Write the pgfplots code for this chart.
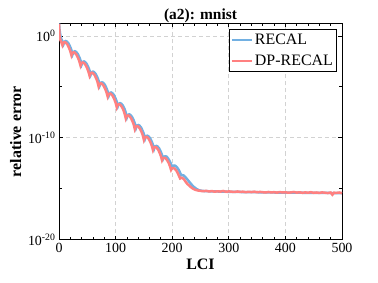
\documentclass[border=0pt]{standalone}
\usepackage{pgfplots}
\pgfplotsset{compat=1.18}
\usepackage{fontspec}
\setmainfont{Liberation Serif}
\definecolor{cblue}{RGB}{114,176,226}
\definecolor{cred}{RGB}{255,128,128}
\definecolor{cgrid}{RGB}{210,210,210}
\begin{document}
\begin{tikzpicture}
\useasboundingbox (-59bp,-43.5bp) rectangle (319bp,239.5bp);
\begin{axis}[
  at={(0,0)}, anchor=south west,
  scale only axis, width=283bp, height=216bp,
  xmin=0, xmax=500, ymin=-20, ymax=1.23,
  xtick={0,100,...,500}, minor x tick num=4,
  ytick={-20,-10,0},
  yticklabels={10\textsuperscript{-20},10\textsuperscript{-10},10\textsuperscript{0}},
  minor ytick={-15,-5},
  tick align=inside, xtick pos=both, ytick pos=both,
  xticklabel pos=lower, yticklabel pos=left,
  major tick length=4bp, minor tick length=3bp,
  every tick/.style={black, line width=0.8bp},
  axis line style={black, line width=1bp},
  grid=major,
  major grid style={cgrid, line width=0.9bp, dash pattern=on 4bp off 3bp},
  /pgf/number format/assume math mode=true,
  tick label style={font=\fontsize{14}{15}\selectfont},
  title={(a2): mnist},
  title style={font=\fontsize{15.5}{16}\selectfont\bfseries, at={(0.5,1)}, anchor=south, yshift=-9bp},
  xlabel={LCI}, ylabel={relative error},
  label style={font=\fontsize{16}{17}\selectfont\bfseries},
  legend style={at={(rel axis cs:0.982,0.975)}, anchor=north east,
    draw=black, line width=1bp, fill=white,
    font=\fontsize{16}{17}\selectfont, inner xsep=1.5bp, inner ysep=2.5bp,
    row sep=5bp},
  legend cell align=left,
  legend image code/.code={\draw[#1, line width=2bp] (0bp,0bp) -- (20bp,0bp);},
]
\addplot[cblue, line width=2.5bp] coordinates {
(0,1.23)(1,0.6)(2,0.2)(3,-0.1)(4,-0.3)(6,-0.5)
(8,-0.8)(9,-0.65)(10,-0.55)(12,-0.5)(14,-0.55)(17,-0.75)(20,-1.1)(22,-1.4)
(24,-1.8)(25,-1.65)(26,-1.55)(28,-1.5)(30,-1.55)(33,-1.75)(36,-2.1)(38,-2.4)
(40,-2.8)(41,-2.65)(42,-2.55)(44,-2.5)(46,-2.55)(49,-2.75)(52,-3.1)(54,-3.4)
(56,-3.8)(57,-3.65)(58,-3.55)(60,-3.5)(62,-3.55)(65,-3.75)(68,-4.1)(70,-4.4)
(72,-4.85)(73,-4.7)(74,-4.6)(76,-4.55)(78,-4.6)(81,-4.8)(84,-5.15)(86,-5.45)
(88,-5.85)(89,-5.7)(90,-5.6)(92,-5.55)(94,-5.6)(97,-5.8)(100,-6.15)(102,-6.45)
(104,-6.9)(105,-6.75)(106,-6.65)(108,-6.6)(110,-6.65)(113,-6.85)(116,-7.2)(118,-7.55)
(120,-8.0)(121,-7.85)(122,-7.75)(124,-7.7)(126,-7.75)(129,-7.95)(132,-8.3)(134,-8.6)
(136,-9.05)(137,-8.9)(138,-8.8)(140,-8.75)(142,-8.8)(145,-9.0)(148,-9.35)(150,-9.65)
(152,-10.1)(153,-9.95)(154,-9.85)(156,-9.8)(158,-9.85)(161,-10.05)(164,-10.4)(166,-10.7)
(168,-11.1)(169,-10.95)(170,-10.85)(172,-10.8)(174,-10.85)(177,-11.05)(180,-11.4)(182,-11.7)
(184,-12.05)(185,-11.92)(186,-11.85)(188,-11.82)(190,-11.85)(193,-12.05)(196,-12.35)(198,-12.6)
(200,-12.9)(201,-12.8)(202,-12.75)(204,-12.73)(206,-12.77)(209,-12.95)(212,-13.2)(214,-13.45)
(216,-13.7)(218,-13.68)(220,-13.7)(223,-13.85)(226,-14.05)(229,-14.25)(232,-14.45)(235,-14.65)
(238,-14.82)(242,-15.0)(247,-15.15)(252,-15.22)
(260,-15.25)(270,-15.27)(280,-15.28)(290,-15.3)(300,-15.31)(320,-15.33)(340,-15.35)
(360,-15.36)(380,-15.38)(400,-15.39)(420,-15.4)(440,-15.41)(460,-15.42)(480,-15.43)(500,-15.44)
};
\addlegendentry{RECAL}
\addplot[cred, line width=2.5bp] coordinates {
(0,1.2)(0.5,0.6)(1,0.0)(2,-0.3)(3,-0.45)(4,-0.6)(5,-0.75)
(6,-0.9)(7,-0.75)(8,-0.65)(10,-0.6)(12,-0.65)(15,-0.85)(18,-1.2)(20,-1.5)
(22,-1.9)(23,-1.75)(24,-1.65)(26,-1.6)(28,-1.65)(31,-1.85)(34,-2.2)(36,-2.5)
(38,-2.9)(39,-2.75)(40,-2.65)(42,-2.6)(44,-2.65)(47,-2.85)(50,-3.2)(52,-3.5)
(54,-3.9)(55,-3.75)(56,-3.65)(58,-3.6)(60,-3.65)(63,-3.85)(66,-4.2)(68,-4.5)
(70,-4.95)(71,-4.8)(72,-4.7)(74,-4.65)(76,-4.7)(79,-4.9)(82,-5.25)(84,-5.55)
(86,-5.95)(87,-5.8)(88,-5.7)(90,-5.65)(92,-5.7)(95,-5.9)(98,-6.25)(100,-6.55)
(102,-7.0)(103,-6.85)(104,-6.75)(106,-6.7)(108,-6.75)(111,-6.95)(114,-7.3)(116,-7.65)
(118,-8.1)(119,-7.95)(120,-7.85)(122,-7.8)(124,-7.85)(127,-8.05)(130,-8.4)(132,-8.7)
(134,-9.15)(135,-9.0)(136,-8.9)(138,-8.85)(140,-8.9)(143,-9.1)(146,-9.45)(148,-9.75)
(150,-10.2)(151,-10.05)(152,-9.95)(154,-9.9)(156,-9.95)(159,-10.15)(162,-10.5)(164,-10.8)
(166,-11.2)(167,-11.05)(168,-10.95)(170,-10.9)(172,-10.95)(175,-11.15)(178,-11.5)(180,-11.8)
(182,-12.2)(183,-12.07)(184,-12.0)(186,-11.97)(188,-12.0)(191,-12.2)(194,-12.5)(196,-12.8)
(198,-13.15)(199,-13.05)(200,-13.0)(202,-12.98)(204,-13.02)(207,-13.2)(210,-13.5)(212,-13.75)
(214,-14.0)(216,-13.95)(218,-13.95)(221,-14.1)(224,-14.35)(227,-14.55)(230,-14.7)
(233,-14.85)(236,-14.98)(240,-15.1)(245,-15.18)(250,-15.22)
(255,-15.25)(260,-15.22)(265,-15.28)(270,-15.24)(275,-15.3)(280,-15.26)(285,-15.29)(290,-15.23)
(295,-15.31)(300,-15.27)(305,-15.3)(310,-15.33)(315,-15.28)(320,-15.32)(325,-15.3)(330,-15.35)
(335,-15.31)(340,-15.34)(345,-15.3)(350,-15.36)(355,-15.32)(360,-15.35)(365,-15.38)(370,-15.33)
(375,-15.37)(380,-15.35)(385,-15.39)(390,-15.34)(395,-15.38)(400,-15.36)(405,-15.4)(410,-15.37)
(415,-15.33)(420,-15.39)(425,-15.36)(430,-15.41)(435,-15.37)(440,-15.4)(445,-15.35)(450,-15.41)
(455,-15.38)(460,-15.42)(465,-15.37)(470,-15.4)(475,-15.44)(480,-15.38)(483,-15.6)(486,-15.4)
(490,-15.42)(495,-15.38)(500,-15.45)
};
\addlegendentry{DP-RECAL}
\end{axis}
\end{tikzpicture}
\end{document}
